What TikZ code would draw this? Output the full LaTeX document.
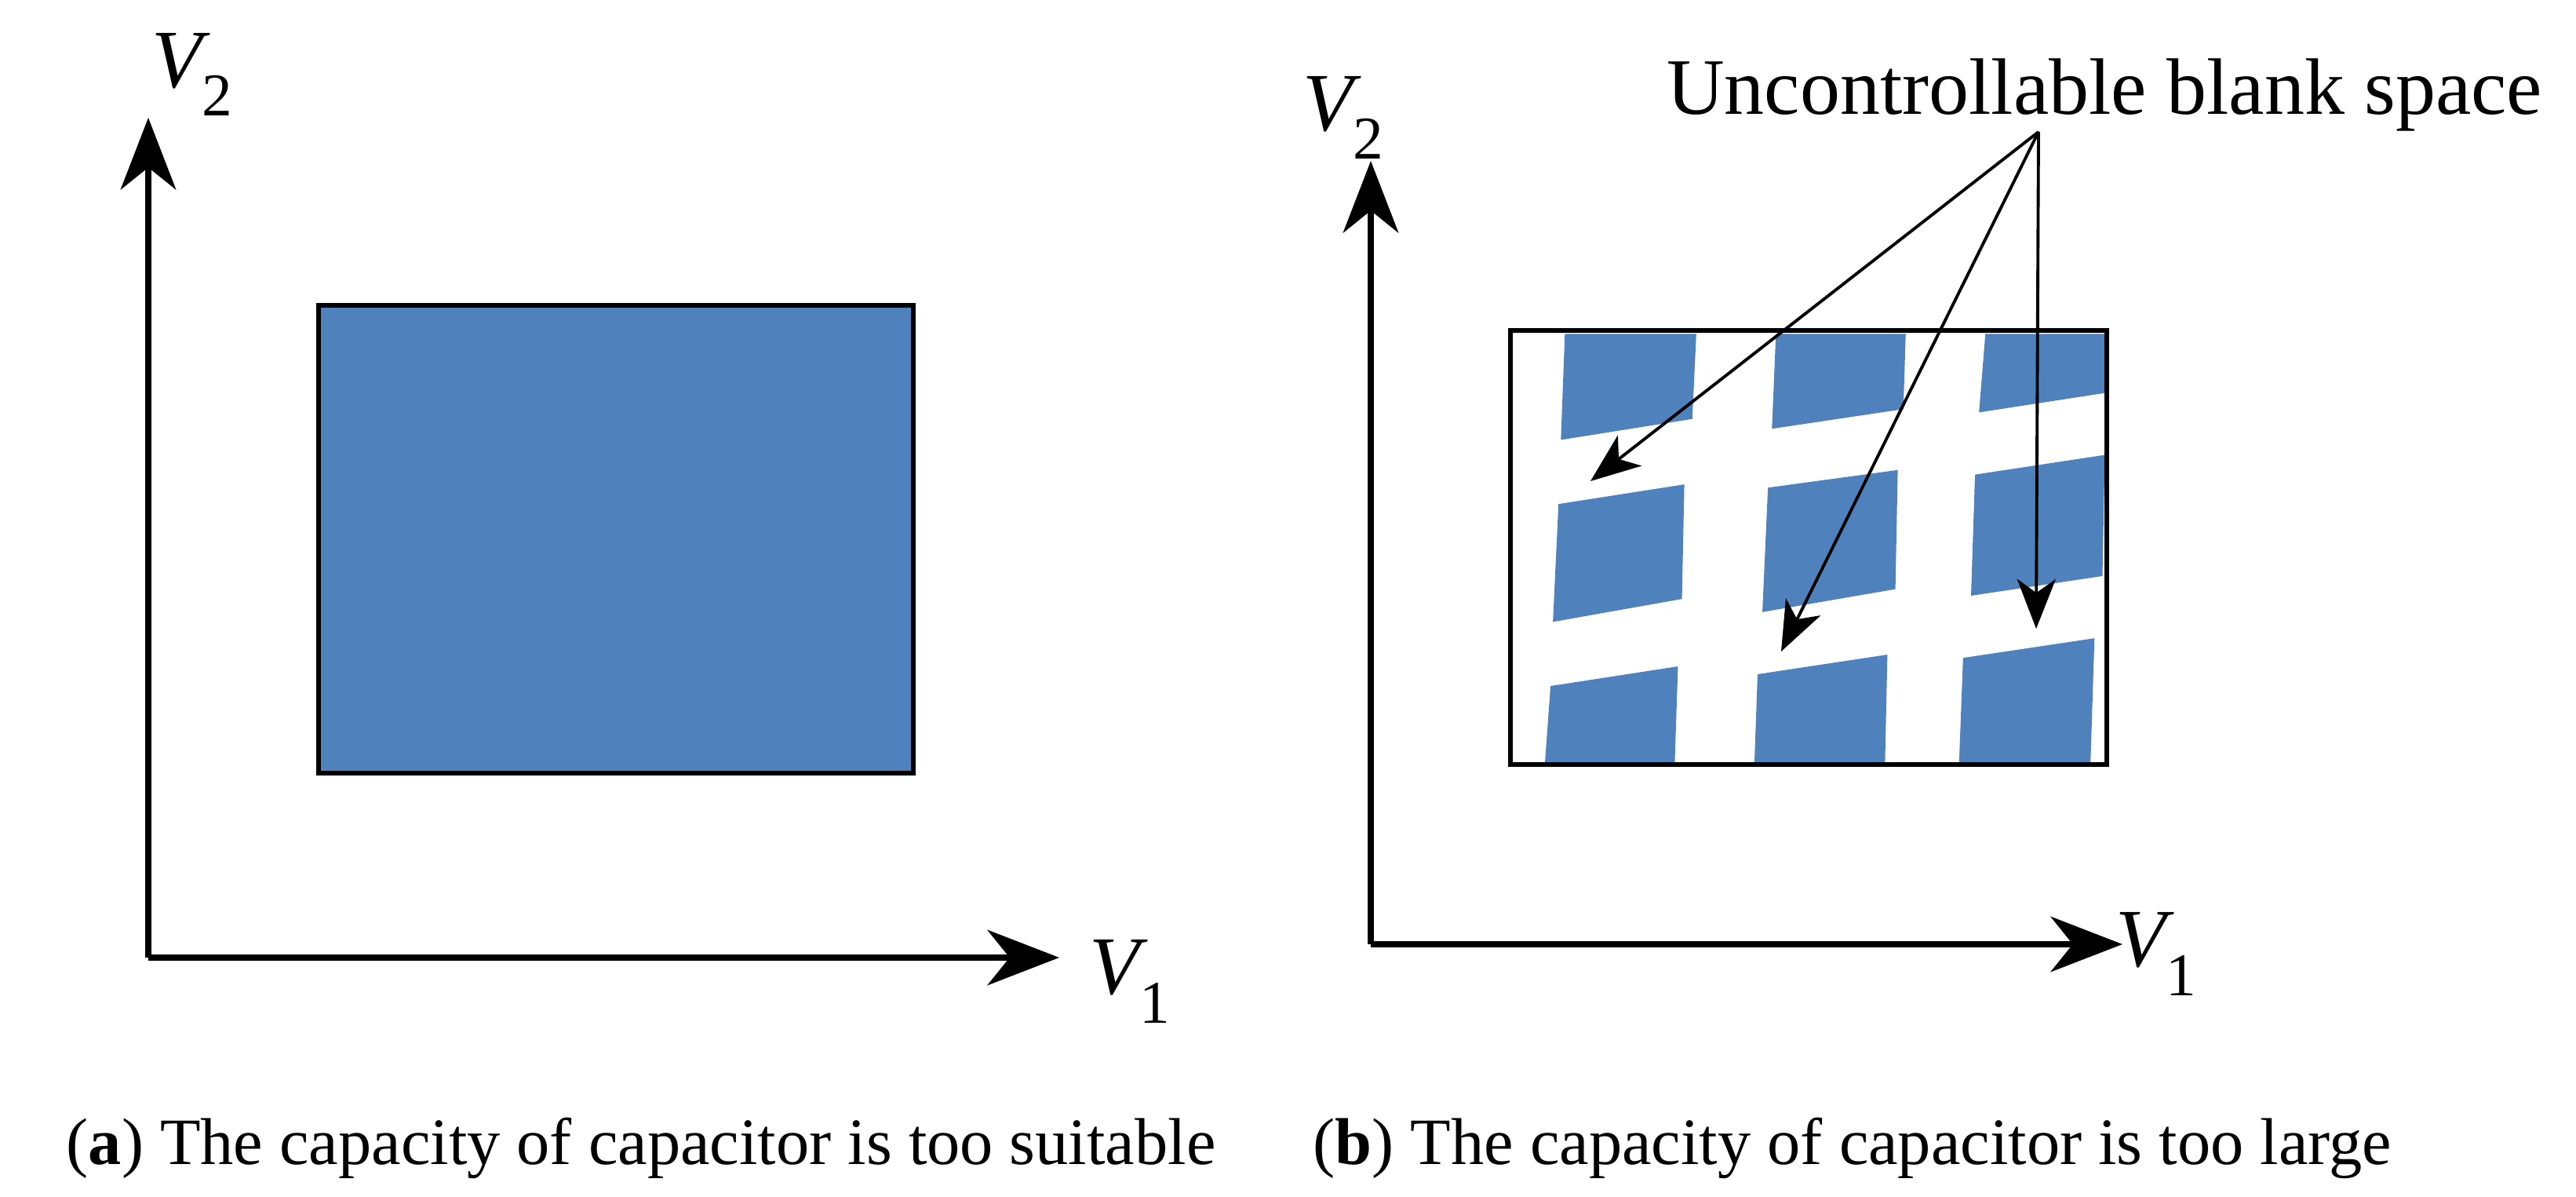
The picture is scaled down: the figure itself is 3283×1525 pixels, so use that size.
\documentclass[tikz,border=0pt]{standalone}
\usepackage{fontspec}
\setmainfont{Liberation Serif}
\usetikzlibrary{arrows.meta}
\definecolor{tile}{HTML}{4F81BD}
\begin{document}
\begin{tikzpicture}[x=0.01cm,y=-0.01cm,
  axis/.style={line width=2.4pt,-{Stealth[length=26pt,width=20pt,inset=8pt]}},
  ptr/.style={line width=1.1pt,-{Stealth[length=18pt,width=14pt,inset=5pt]}},
  lab/.style={font=\fontsize{30}{34}\selectfont,inner sep=0pt},
  captxt/.style={font=\fontsize{24}{28}\selectfont\rmfamily,anchor=base west,inner sep=0pt}]
\useasboundingbox (0,0) rectangle (3283,1525);
% left panel
\coordinate (o1) at (189,1220);
\coordinate (y1) at (189,150);
\coordinate (x1) at (1350,1220);
\fill[tile] (406,389) rectangle (1164,985);
\draw[line width=1.8pt] (406,389) rectangle (1164,985);
\draw[axis] (o1) -- (y1);
\draw[axis] (o1) -- (x1);
\node[lab] (v2a) at (245,95) {\itshape V\raisebox{-0.35em}{\upshape\fontsize{22}{24}\selectfont 2}};
\node[lab] (v1a) at (1440,1250) {\itshape V\raisebox{-0.35em}{\upshape\fontsize{22}{24}\selectfont 1}};
% right panel
\begin{scope}[shift={(1700,0)},xscale=1.015,yscale=0.834]
\fill[tile] (290,510)--(455,510)--(450,640)--(285,672)--cycle;
\fill[tile] (555,510)--(718,510)--(715,625)--(550,655)--cycle;
\fill[tile] (818,510)--(970,510)--(970,600)--(810,630)--cycle;
\fill[tile] (282,770)--(440,740)--(437,915)--(275,950)--cycle;
\fill[tile] (545,745)--(708,718)--(705,900)--(538,935)--cycle;
\fill[tile] (805,725)--(968,695)--(965,880)--(800,910)--cycle;
\fill[tile] (272,1048)--(432,1018)--(428,1165)--(265,1165)--cycle;
\fill[tile] (532,1030)--(695,1000)--(692,1165)--(528,1165)--cycle;
\fill[tile] (790,1005)--(955,975)--(950,1165)--(785,1165)--cycle;
\end{scope}
\draw[line width=1.8pt] (1925,421) rectangle (2685,974);
\coordinate (o2) at (1747,1203);
\coordinate (y2) at (1747,205);
\coordinate (x2) at (2705,1203);
\draw[axis] (o2) -- (y2);
\draw[axis] (o2) -- (x2);
\node[lab] (v2b) at (1712,150) {\itshape V\raisebox{-0.35em}{\upshape\fontsize{22}{24}\selectfont 2}};
\node[lab] (v1b) at (2748,1215) {\itshape V\raisebox{-0.35em}{\upshape\fontsize{22}{24}\selectfont 1}};
\node[font=\fontsize{29}{34}\selectfont,anchor=base,inner sep=0pt] (ub) at (2682,146) {Uncontrollable blank space};
\coordinate (src) at (2598,168);
\coordinate (t1) at (2027,613);
\coordinate (t2) at (2270,830);
\coordinate (t3) at (2595,801);
\draw[ptr] (src) -- (t1);
\draw[ptr] (src) -- (t2);
\draw[ptr] (src) -- (t3);
% captions
\node[captxt] (ca) at (84,1483) {(\textbf{a}) The capacity of capacitor is too suitable};
\node[captxt] (cb) at (1673,1483) {(\textbf{b}) The capacity of capacitor is too large};
\end{tikzpicture}
\end{document}
